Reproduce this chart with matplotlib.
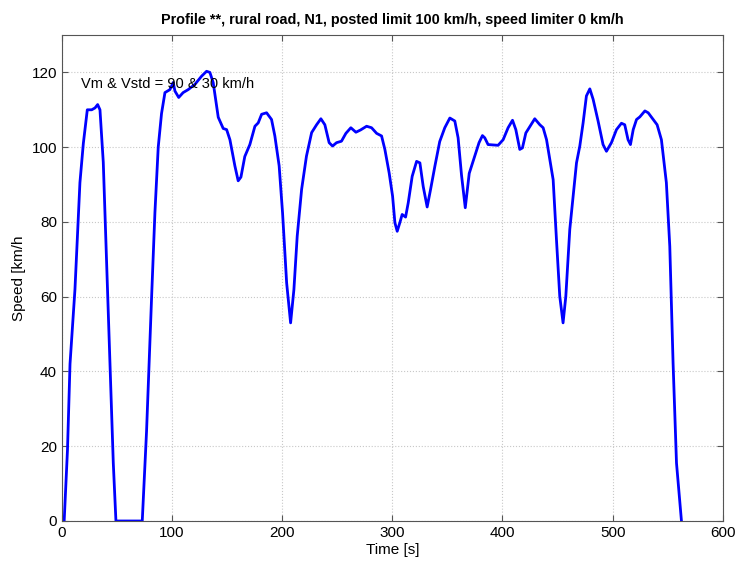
import matplotlib.pyplot as plt

# speed profile (time in s, speed in km/h)
time_s = [0, 2, 5, 7.3, 11.8, 16.3, 19.4, 23, 27, 30, 32.4, 34.5, 37.5, 40.5, 43.6, 46.6, 49,
          72.9, 76.8, 81.4, 84.4, 87.4, 90.4, 93.5, 98, 101, 102.6, 106, 110, 114.6, 120.7, 126.8,
          131.3, 134.3, 137.3, 141.9, 146.4, 149.5, 152.5, 157, 160, 162.5, 166, 170.6, 175.2,
          178.2, 181.3, 185.8, 190.3, 193.3, 197.2, 200.3, 204, 207.6, 210.6, 213.6, 217.6, 222,
          226.7, 231.2, 235.1, 238.7, 242.6, 245.7, 249.3, 253.8, 257.8, 262.3, 266.9, 271.1,
          276.6, 281.1, 285.7, 290.2, 293.2, 297.1, 300.2, 302.3, 304.4, 306.8, 308.9, 312, 314.4,
          318, 322, 325, 328, 331.6, 334.7, 338.6, 343, 347.6, 352.2, 356.7, 359.7, 362.8, 366.2,
          369.8, 374.8, 378.7, 381.8, 383.9, 386.9, 396, 400.6, 405.1, 409.1, 412.1, 415.7, 418.1,
          421.2, 424.2, 429.3, 433.9, 436.9, 440, 443, 446, 449, 452, 455, 457.5, 461.1, 464.1,
          467.2, 470.2, 473.2, 476.2, 479.3, 482.3, 486.8, 491.3, 494.4, 498.9, 503.5, 508, 511,
          514, 516.2, 518.7, 521.7, 524.7, 529.3, 532.3, 536.8, 540.4, 544.3, 548.8, 551.9, 554.9,
          558, 562.5]
speed_kmh = [0, 0, 19, 42, 62, 90.5, 101, 110, 110, 110.5, 111.4, 110, 96, 69, 42, 15.5, 0,
             0, 24, 60, 82.5, 100, 109, 114.6, 115.4, 117.3, 115, 113.3, 114.6, 115.4, 116.8, 119,
             120.3, 120, 117.3, 108, 105, 104.7, 102, 95, 91, 92, 97.5, 100.7, 105.6,
             106.5, 108.8, 109.2, 107.4, 103, 95, 82.4, 63.7, 53, 61.9, 76.2, 88.7, 97.6,
             103.9, 106, 107.6, 106, 101.2, 100.3, 101.2, 101.6, 103.7, 105.2, 104, 104.6,
             105.6, 105.2, 103.7, 103, 99.4, 93.1, 86.9, 79.8, 77.5, 79.8, 82, 81.3, 85.1,
             92.2, 96.2, 95.8, 89.5, 84, 88.7, 94.9, 101.5, 105.2, 107.8, 107, 102.5, 92.5, 83.8,
             93, 97.6, 101.2, 103.1, 102.5, 100.7, 100.5, 102, 105.2, 107.2, 104.7, 99.4, 99.8,
             103.8, 105.2, 107.6, 106, 105.2, 102, 96.7, 91.3, 75.3, 60.1, 53, 60.1, 78, 86.9,
             95.8, 100.3, 106.5, 113.7, 115.6, 112.8, 107, 100.7, 98.9, 101.2, 104.7, 106.4, 106,
             102, 100.7, 104.7, 107.4, 108.1, 109.7, 109.2, 107.4, 106, 102, 90.5, 73.5, 42.2,
             15.5, 0]

x_ticks = [0, 100, 200, 300, 400, 500, 600]
y_ticks = [0, 20, 40, 60, 80, 100, 120]

plt.rcParams['font.family'] = ['Liberation Sans', 'DejaVu Sans']

fig = plt.figure(figsize=(7.36, 5.65), dpi=100)
ax = fig.add_axes([0.0842, 0.0779, 0.8978, 0.8601])

ax.plot(time_s, speed_kmh, color='#0000ff', linewidth=2.0,
        solid_joinstyle='round', solid_capstyle='round')

ax.set_xlim(0, 600)
ax.set_ylim(0, 130)
ax.set_xticks(x_ticks)
ax.set_yticks(y_ticks)
ax.grid(True, linestyle=':', color='#c8c8c8', linewidth=0.8)
ax.tick_params(direction='in', top=True, right=True, labelsize=11, length=4, color='#555555')
for s in ax.spines.values():
    s.set_color('#555555')

ax.set_title('Profile **, rural road, N1, posted limit 100 km/h, speed limiter 0 km/h',
             fontsize=10.4, fontweight='bold', pad=8)
ax.set_xlabel('Time [s]', fontsize=11, labelpad=2)
ax.set_ylabel('Speed [km/h', fontsize=11, labelpad=4)
ax.text(17, 117, 'Vm & Vstd = 90 & 30 km/h', fontsize=10.5, va='center', ha='left')

fig.savefig('out.png', dpi=100)
